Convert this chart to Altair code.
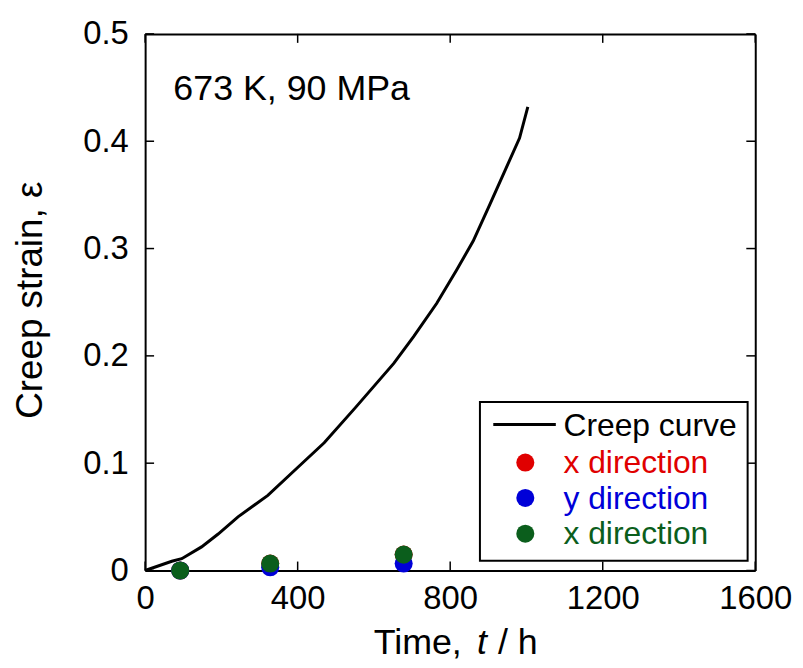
import altair as alt
import pandas as pd

# ---- data ----
time_h = [0, 70, 96, 148, 191.5, 243.6, 321.8, 400, 469.6, 552, 652, 704, 764.8,
          816.9, 860.3, 903.8, 946.6, 981.9, 1003.6]
strain = [0.0, 0.0086, 0.011, 0.022, 0.034, 0.050, 0.070, 0.096, 0.119, 0.152,
          0.193, 0.218, 0.249, 0.280, 0.307, 0.341, 0.375, 0.403, 0.432]

point_time = [92, 328, 678]
x_dir = [0.0, 0.0065, 0.0148]
y_dir = [0.0, 0.003, 0.0065]
x_dir2 = [0.0, 0.0065, 0.0148]

x_ticks = [0, 400, 800, 1200, 1600]
y_ticks = [0, 0.1, 0.2, 0.3, 0.4, 0.5]

legend_labels = ["Creep curve", "x direction", "y direction", "x direction"]
RED, BLUE, GREEN = "#e00000", "#0000d8", "#0b5e1c"
FONT = "Liberation Sans"

W, H = 614, 540
TL = 9  # inward tick length
xs = alt.Scale(domain=[0, 1600], nice=False, zero=False)
ys = alt.Scale(domain=[0, 0.5], nice=False, zero=False)

x_bottom = alt.Axis(values=x_ticks, orient="bottom", title=None, grid=False, format="d",
                    labelFont=FONT, labelFontSize=33, labelColor="black",
                    labelPadding=12, ticks=False,
                    domainColor="black", domainWidth=2, labelFlush=False)
y_left = alt.Axis(values=y_ticks, orient="left", title=None, grid=False,
                  labelFont=FONT, labelFontSize=33, labelColor="black",
                  labelPadding=17, ticks=False,
                  domainColor="black", domainWidth=2, labelFlush=False,
                  labelExpr="datum.value == 0 ? '0' : format(datum.value, '.1f')")
x_top = alt.Axis(values=x_ticks, orient="top", title=None, grid=False, labels=False,
                 ticks=False, domainColor="black", domainWidth=2)
y_right = alt.Axis(values=y_ticks, orient="right", title=None, grid=False, labels=False,
                   ticks=False, domainColor="black", domainWidth=2)


def X(field):
    return alt.X(field, scale=xs, axis=None)


def Y(field):
    return alt.Y(field, scale=ys, axis=None)


curve_df = pd.DataFrame({"t": time_h, "e": strain})
curve = alt.Chart(curve_df).mark_line(color="black", strokeWidth=3).encode(
    x=alt.X("t:Q", scale=xs, axis=x_bottom),
    y=alt.Y("e:Q", scale=ys, axis=y_left),
)

frame = alt.Chart(curve_df).mark_line(opacity=0).encode(
    x=alt.X("t:Q", scale=xs, axis=x_top),
    y=alt.Y("e:Q", scale=ys, axis=y_right),
)

# inward ticks on all four sides, placed by the scales
xt_df = pd.DataFrame({"v": x_ticks})
yt_df = pd.DataFrame({"v": y_ticks})
tick_kw = dict(color="black", thickness=1.5, size=TL, opacity=1)
ticks_bottom = alt.Chart(xt_df).mark_tick(**tick_kw).encode(x=X("v:Q"), y=alt.value(H - TL / 2))
ticks_top = alt.Chart(xt_df).mark_tick(**tick_kw).encode(x=X("v:Q"), y=alt.value(TL / 2))
ticks_left = alt.Chart(yt_df).mark_tick(**tick_kw).encode(y=Y("v:Q"), x=alt.value(TL / 2))
ticks_right = alt.Chart(yt_df).mark_tick(**tick_kw).encode(y=Y("v:Q"), x=alt.value(W - TL / 2))


def pts(vals, color):
    df = pd.DataFrame({"t": point_time, "e": vals})
    return alt.Chart(df).mark_circle(color=color, opacity=1, size=330).encode(
        x=X("t:Q"), y=Y("e:Q"))


red_pts = pts(x_dir, RED)
blue_pts = pts(y_dir, BLUE)
green_pts = pts(x_dir2, GREEN)

# annotation
ann = alt.Chart(pd.DataFrame({"t": [74], "e": [0.438], "s": ["673 K, 90 MPa"]})).mark_text(
    font=FONT, fontSize=36, align="left", baseline="alphabetic", color="black"
).encode(x=X("t:Q"), y=Y("e:Q"), text="s:N")

# legend box
box = alt.Chart(pd.DataFrame({"a": [878], "b": [1580], "c": [0.009], "d": [0.157]})).mark_rect(
    fill="white", stroke="black", strokeWidth=2
).encode(x=X("a:Q"), x2="b:Q", y=Y("c:Q"), y2="d:Q")

leg_line = alt.Chart(pd.DataFrame({"t": [913, 1077], "e": [0.136, 0.136]})).mark_line(
    color="black", strokeWidth=3
).encode(x=X("t:Q"), y=Y("e:Q"))

leg_dots = alt.Chart(pd.DataFrame({"t": [997, 997, 997], "e": [0.1006, 0.0676, 0.0343],
                                   "c": [RED, BLUE, GREEN]})).mark_circle(
    opacity=1, size=330
).encode(x=X("t:Q"), y=Y("e:Q"), color=alt.Color("c:N", scale=None))

leg_text = alt.Chart(pd.DataFrame({"t": [1097] * 4, "e": [0.1253, 0.0907, 0.0574, 0.0244],
                                   "s": legend_labels,
                                   "c": ["black", RED, BLUE, GREEN]})).mark_text(
    font=FONT, fontSize=32, align="left", baseline="alphabetic"
).encode(x=X("t:Q"), y=Y("e:Q"), text="s:N", color=alt.Color("c:N", scale=None))


# axis titles (pixel positions relative to plot area)
def label(txt, x, y, **kw):
    return alt.Chart(pd.DataFrame({"s": [txt]})).mark_text(font=FONT, color="black", **kw).encode(
        text="s:N", x=alt.value(x), y=alt.value(y))


xt1 = label("Time,", 230, 624, fontSize=36, align="left", baseline="alphabetic")
xt2 = label("t", 334, 624, fontSize=36, align="left", baseline="alphabetic", fontStyle="italic")
xt3 = label("/ h", 355, 624, fontSize=36, align="left", baseline="alphabetic")
yt = label("Creep strain, \u03b5", -115, 268, fontSize=37, align="center", baseline="middle",
           angle=270)

chart = alt.layer(
    curve, frame, ticks_bottom, ticks_top, ticks_left, ticks_right, box, leg_line, leg_dots,
    leg_text, red_pts, blue_pts, green_pts, ann, xt1, xt2, xt3, yt
).resolve_axis(x="independent", y="independent").properties(
    width=W, height=H,
    autosize=alt.AutoSizeParams(type="none"),
    padding={"left": 138, "top": 24, "right": 40, "bottom": 90},
).configure_view(strokeWidth=0)

chart.save("out.html", embed_options={"renderer": "svg", "actions": False})
